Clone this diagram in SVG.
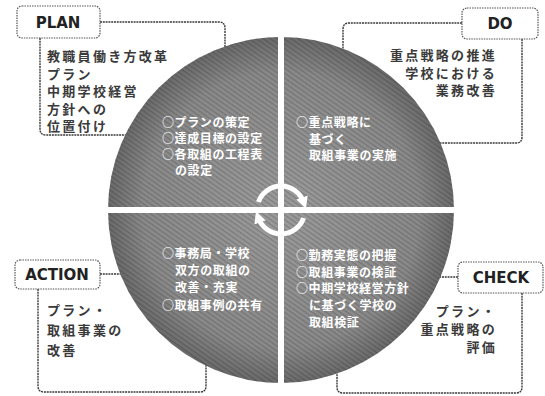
<svg xmlns="http://www.w3.org/2000/svg" width="545" height="396" viewBox="0 0 545 396">
<style>
.frame{fill:none;stroke:#3a3a3a;stroke-width:1.4;stroke-dasharray:2 0.8}
.lbox{fill:#fff;stroke:#555;stroke-width:1.2;stroke-dasharray:1.5 1}
.lbl{font-family:"DejaVu Sans",sans-serif;font-weight:bold;font-size:15px;fill:#222;text-anchor:middle}
.out{font-family:"Noto Sans CJK JP",sans-serif;font-weight:bold;font-size:13px;letter-spacing:2.3px;fill:#3a3a3a}
.in{font-family:"Noto Sans CJK JP",sans-serif;font-weight:bold;font-size:12px;letter-spacing:0.6px;fill:#fff}
.r{text-anchor:end}
.arc{fill:none;stroke:#fff;stroke-width:5}
</style>
<defs>
<radialGradient id="g" cx="50%" cy="50%" r="50%">
<stop offset="0" stop-color="#9c9c9c"/>
<stop offset="0.8" stop-color="#8a8a8a"/>
<stop offset="1" stop-color="#6a6a6a"/>
</radialGradient>
<pattern id="hatch" width="4" height="4" patternUnits="userSpaceOnUse" patternTransform="rotate(35)">
<rect width="4" height="1.3" fill="#000" opacity="0.18"/>
</pattern>
<marker id="ah" viewBox="0 0 10 10" refX="4" refY="5" markerWidth="12" markerHeight="12" markerUnits="userSpaceOnUse" orient="auto">
<path d="M0,0 L10,5 L0,10 Z" fill="#fff"/>
</marker>
</defs>
<rect width="545" height="396" fill="#fff"/>
<g id="connectors">
<path class="frame" d="M100,22 H219 Q225,22 225,28 V70"/>
<path class="frame" d="M40,38 V129 Q40,135 46,135 H150"/>
<path class="frame" d="M462,23 H349 Q343,23 343,29 V70"/>
<path class="frame" d="M522,39 V137 Q522,143 516,143 H410"/>
<path class="frame" d="M100,274 H140"/>
<path class="frame" d="M38,289 V386 Q38,392 44,392 H200 Q206,392 206,386 V350"/>
<path class="frame" d="M458,277 H420"/>
<path class="frame" d="M522,293 V387 Q522,393 516,393 H343 Q337,393 337,387 V350"/>
</g>
<g id="cycle">
<circle cx="281" cy="210" r="173" fill="url(#g)"/>
<circle cx="281" cy="210" r="173" fill="url(#hatch)"/>
<rect x="278" y="30" width="6" height="360" fill="#fff"/>
<rect x="100" y="207" width="362" height="6" fill="#fff"/>
<path class="arc" d="M258.4,202 A24,24 0 0 1 303.6,202" marker-end="url(#ah)"/>
<path class="arc" d="M303.6,218 A24,24 0 0 1 258.4,218" marker-end="url(#ah)"/>
</g>
<g id="q-plan">
<text class="in"><tspan x="162" y="127">○プランの策定</tspan><tspan x="162" y="143">○達成目標の設定</tspan><tspan x="162" y="159">○各取組の工程表</tspan><tspan x="175" y="175">の設定</tspan></text>
</g>
<g id="q-do">
<text class="in"><tspan x="296" y="127">○重点戦略に</tspan><tspan x="309" y="144">基づく</tspan><tspan x="309" y="160">取組事業の実施</tspan></text>
</g>
<g id="q-action">
<text class="in"><tspan x="162" y="258">○事務局・学校</tspan><tspan x="175" y="275">双方の取組の</tspan><tspan x="175" y="292">改善・充実</tspan><tspan x="162" y="310">○取組事例の共有</tspan></text>
</g>
<g id="q-check">
<text class="in"><tspan x="296" y="260">○勤務実態の把握</tspan><tspan x="296" y="277">○取組事業の検証</tspan><tspan x="296" y="293">○中期学校経営方針</tspan><tspan x="309" y="310">に基づく学校の</tspan><tspan x="309" y="327">取組検証</tspan></text>
</g>
<g id="plan">
<rect class="lbox" x="17" y="6" width="83" height="32" rx="5"/>
<text class="lbl" x="58" y="28">PLAN</text>
<text class="out"><tspan x="47" y="61">教職員働き方改革</tspan><tspan x="47" y="78.6">プラン</tspan><tspan x="47" y="96.2">中期学校経営</tspan><tspan x="47" y="113.8">方針への</tspan><tspan x="47" y="131.4">位置付け</tspan></text>
</g>
<g id="do">
<rect class="lbox" x="462" y="8" width="76" height="31" rx="5"/>
<text class="lbl" x="500" y="29">DO</text>
<text class="out r"><tspan x="497" y="60">重点戦略の推進</tspan><tspan x="497" y="77.6">学校における</tspan><tspan x="497" y="95.2">業務改善</tspan></text>
</g>
<g id="action">
<rect class="lbox" x="15" y="260" width="85" height="29" rx="5"/>
<text class="lbl" x="57" y="280">ACTION</text>
<text class="out"><tspan x="47" y="315">プラン・</tspan><tspan x="47" y="335">取組事業の</tspan><tspan x="47" y="355">改善</tspan></text>
</g>
<g id="check">
<rect class="lbox" x="458" y="262" width="85" height="31" rx="5"/>
<text class="lbl" x="501" y="283">CHECK</text>
<text class="out r"><tspan x="497" y="316">プラン・</tspan><tspan x="497" y="334">重点戦略の</tspan><tspan x="497" y="352">評価</tspan></text>
</g>
</svg>
